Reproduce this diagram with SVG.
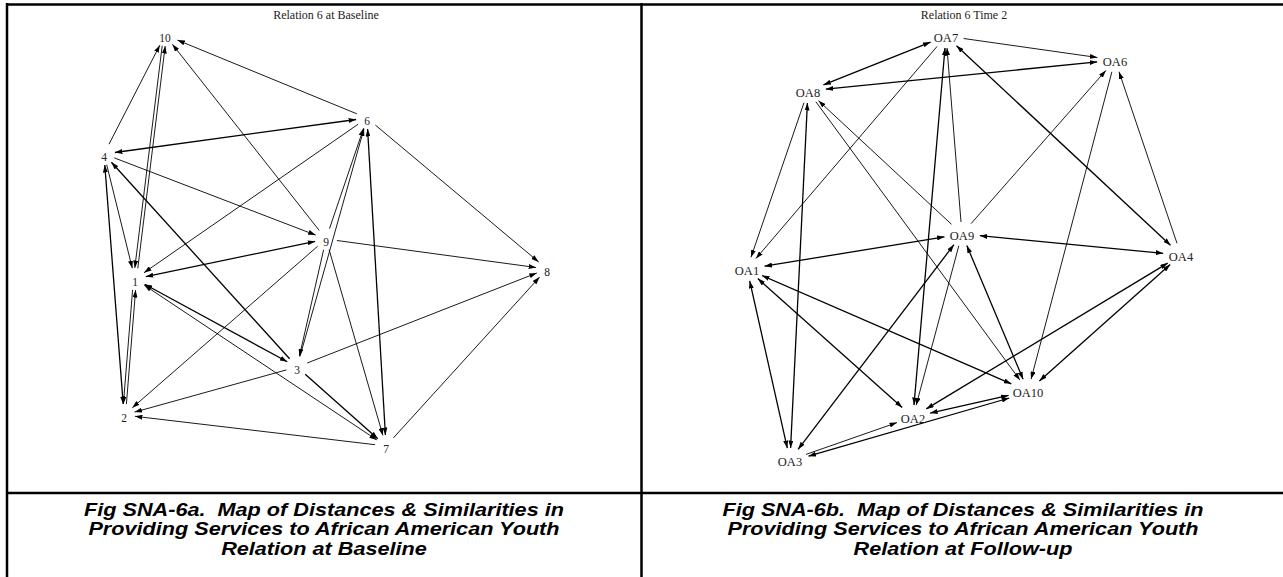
<svg xmlns="http://www.w3.org/2000/svg" width="1283" height="577" viewBox="0 0 1283 577">
  <style>
    .frame { stroke: #000; stroke-width: 2.5; fill: none; }
    .e { stroke: #000; stroke-width: 0.9; fill: none; marker-end: url(#arr); }
    .b { stroke: #000; stroke-width: 1.3; fill: none; marker-end: url(#arr); marker-start: url(#arr); }
    .bt { stroke: #000; stroke-width: 0.9; fill: none; marker-end: url(#arr); marker-start: url(#arr); }
    .tk { stroke-width: 1.3; }
    .lbl { font-family: "Liberation Serif", "Times New Roman", serif; fill: #222; text-anchor: middle; }
    .l1 { font-size: 11.5px; }
    .l2 { font-size: 12.5px; }
    .ttl { font-family: "Liberation Serif", "Times New Roman", serif; font-size: 12px; fill: #222; text-anchor: middle; }
    .cap { font-family: "Liberation Sans", Arial, sans-serif; font-size: 19px; font-weight: bold; font-style: italic; fill: #000; text-anchor: middle; white-space: pre; }
  </style>
  <defs>
    <marker id="arr" markerUnits="userSpaceOnUse" markerWidth="7.5" markerHeight="5" refX="7.5" refY="2.5" orient="auto-start-reverse">
      <path d="M0,0 L7.5,2.5 L0,5 Z" fill="#000"/>
    </marker>
  </defs>

  <rect width="1283" height="577" fill="#fff"/>

  <!-- table frame -->
  <g id="frame">
    <line class="frame" x1="6" y1="4.5" x2="1283" y2="4.5"/>
    <line class="frame" x1="7" y1="3" x2="7" y2="577"/>
    <line class="frame" x1="641.5" y1="3" x2="641.5" y2="577"/>
    <line class="frame" x1="6" y1="493" x2="1283" y2="493"/>
  </g>

  <text class="ttl" x="326" y="19">Relation 6 at Baseline</text>
  <text class="ttl" x="964" y="19">Relation 6 Time 2</text>

  <!-- baseline network connectors -->
  <g id="edges-a">
    <line class="e" x1="109.0" y1="144.2" x2="159.8" y2="45.2"/>
    <line class="e" x1="137.8" y1="268.3" x2="165.2" y2="46.1"/>
    <line class="e" x1="162.2" y1="45.7" x2="134.8" y2="267.9"/>
    <line class="e" x1="356.8" y1="113.8" x2="177.4" y2="40.1"/>
    <line class="e" x1="319.2" y1="230.4" x2="172.4" y2="44.3"/>
    <line class="b" x1="114.9" y1="152.5" x2="356.1" y2="119.5"/>
    <line class="e" x1="114.3" y1="157.9" x2="315.7" y2="235.1"/>
    <line class="e tk" x1="289.6" y1="358.8" x2="111.4" y2="162.2"/>
    <line class="b" x1="104.8" y1="165.0" x2="123.2" y2="404.0"/>
    <line class="e" x1="106.7" y1="164.7" x2="132.3" y2="268.3"/>
    <line class="e" x1="358.0" y1="124.3" x2="144.0" y2="272.7"/>
    <line class="b" x1="145.8" y1="276.7" x2="315.2" y2="241.3"/>
    <line class="b" x1="144.7" y1="284.2" x2="287.3" y2="361.8"/>
    <line class="bt" x1="144.2" y1="285.1" x2="376.8" y2="439.9"/>
    <line class="e" x1="132.6" y1="289.9" x2="123.4" y2="403.9"/>
    <line class="e" x1="126.4" y1="404.1" x2="135.6" y2="290.1"/>
    <line class="e" x1="317.7" y1="246.2" x2="132.3" y2="407.8"/>
    <line class="e" x1="286.4" y1="369.9" x2="134.6" y2="412.1"/>
    <line class="e" x1="375.1" y1="444.7" x2="134.9" y2="416.3"/>
    <line class="e" x1="323.6" y1="249.7" x2="299.4" y2="356.3"/>
    <line class="e" x1="300.0" y1="356.4" x2="364.0" y2="128.6"/>
    <line class="e" x1="329.5" y1="228.6" x2="363.5" y2="128.4"/>
    <line class="b" x1="367.6" y1="129.0" x2="385.4" y2="435.0"/>
    <line class="e" x1="336.9" y1="240.5" x2="536.1" y2="267.5"/>
    <line class="e" x1="375.4" y1="125.1" x2="538.6" y2="261.9"/>
    <line class="e" x1="307.2" y1="363.0" x2="536.8" y2="273.0"/>
    <line class="e" x1="393.4" y1="437.9" x2="539.6" y2="277.1"/>
    <line class="e" x1="329.1" y1="249.6" x2="382.9" y2="435.4"/>
    <line class="e tk" x1="305.2" y1="374.3" x2="377.8" y2="438.7"/>
  </g>

  <!-- baseline network nodes -->
  <g id="n10"><text class="lbl l1" x="165" y="42">10</text></g>
  <g id="n4"><text class="lbl l1" x="104" y="161">4</text></g>
  <g id="n6"><text class="lbl l1" x="367" y="125">6</text></g>
  <g id="n9"><text class="lbl l1" x="326" y="246">9</text></g>
  <g id="n1"><text class="lbl l1" x="135" y="286">1</text></g>
  <g id="n8"><text class="lbl l1" x="547" y="276">8</text></g>
  <g id="n3"><text class="lbl l1" x="297" y="374">3</text></g>
  <g id="n2"><text class="lbl l1" x="124" y="422">2</text></g>
  <g id="n7"><text class="lbl l1" x="386" y="453">7</text></g>

  <!-- follow-up network connectors -->
  <g id="edges-b">
    <line class="b" x1="930.6" y1="42.1" x2="823.4" y2="84.9"/>
    <line class="e" x1="963.6" y1="38.5" x2="1097.4" y2="57.5"/>
    <line class="b" x1="825.8" y1="89.2" x2="1097.2" y2="61.8"/>
    <line class="e" x1="937.1" y1="46.4" x2="755.9" y2="258.6"/>
    <line class="b" x1="945.0" y1="48.0" x2="914.0" y2="405.0"/>
    <line class="e" x1="961.0" y1="222.0" x2="947.0" y2="48.0"/>
    <line class="b" x1="1170.5" y1="245.2" x2="956.5" y2="45.8"/>
    <line class="b" x1="807.4" y1="103.0" x2="790.6" y2="448.0"/>
    <line class="e" x1="804.0" y1="102.7" x2="751.0" y2="257.3"/>
    <line class="e" x1="815.9" y1="101.8" x2="1019.9" y2="380.0"/>
    <line class="e" x1="951.5" y1="224.3" x2="818.5" y2="100.7"/>
    <line class="b" x1="944.5" y1="236.8" x2="764.5" y2="266.2"/>
    <line class="e" x1="971.1" y1="223.6" x2="1105.9" y2="70.4"/>
    <line class="b" x1="979.8" y1="235.7" x2="1163.2" y2="253.3"/>
    <line class="b" x1="953.9" y1="244.7" x2="798.1" y2="449.3"/>
    <line class="e" x1="958.8" y1="245.8" x2="916.2" y2="405.2"/>
    <line class="b" x1="966.8" y1="245.5" x2="1023.1" y2="379.3"/>
    <line class="e" x1="1111.9" y1="71.8" x2="1031.1" y2="379.1"/>
    <line class="e" x1="1177.0" y1="243.3" x2="1119.0" y2="71.7"/>
    <line class="b" x1="1170.2" y1="264.6" x2="1039.4" y2="380.9"/>
    <line class="b" x1="1167.7" y1="263.1" x2="926.3" y2="408.9"/>
    <line class="b" x1="749.7" y1="280.9" x2="787.3" y2="448.1"/>
    <line class="b" x1="757.8" y1="278.6" x2="902.2" y2="407.4"/>
    <line class="b" x1="762.0" y1="275.5" x2="1011.3" y2="383.8"/>
    <line class="e" x1="806.0" y1="454.4" x2="897.0" y2="422.6"/>
    <line class="b" x1="808.5" y1="456.2" x2="1009.3" y2="398.0"/>
    <line class="b" x1="930.1" y1="413.1" x2="1008.5" y2="395.4"/>
  </g>

  <!-- follow-up network nodes -->
  <g id="oa7"><text class="lbl l2" x="946" y="42">OA7</text></g>
  <g id="oa6"><text class="lbl l2" x="1115" y="66">OA6</text></g>
  <g id="oa8"><text class="lbl l2" x="808" y="97">OA8</text></g>
  <g id="oa9"><text class="lbl l2" x="962" y="240">OA9</text></g>
  <g id="oa1"><text class="lbl l2" x="747" y="275">OA1</text></g>
  <g id="oa4"><text class="lbl l2" x="1181" y="261">OA4</text></g>
  <g id="oa10"><text class="lbl l2" x="1028" y="397">OA10</text></g>
  <g id="oa2"><text class="lbl l2" x="913" y="423">OA2</text></g>
  <g id="oa3"><text class="lbl l2" x="790" y="466">OA3</text></g>

  <!-- captions (set slightly wide) -->
  <g id="caption-a" transform="translate(324,0) scale(1.14,1) translate(-324,0)">
    <text class="cap" x="324" y="516" xml:space="preserve">Fig SNA-6a.  Map of Distances &amp; Similarities in</text>
    <text class="cap" x="324" y="535.5">Providing Services to African American Youth</text>
    <text class="cap" x="324" y="555">Relation at Baseline</text>
  </g>
  <g id="caption-b" transform="translate(963,0) scale(1.14,1) translate(-963,0)">
    <text class="cap" x="963" y="516" xml:space="preserve">Fig SNA-6b.  Map of Distances &amp; Similarities in</text>
    <text class="cap" x="963" y="535.5">Providing Services to African American Youth</text>
    <text class="cap" x="963" y="555">Relation at Follow-up</text>
  </g>
</svg>
